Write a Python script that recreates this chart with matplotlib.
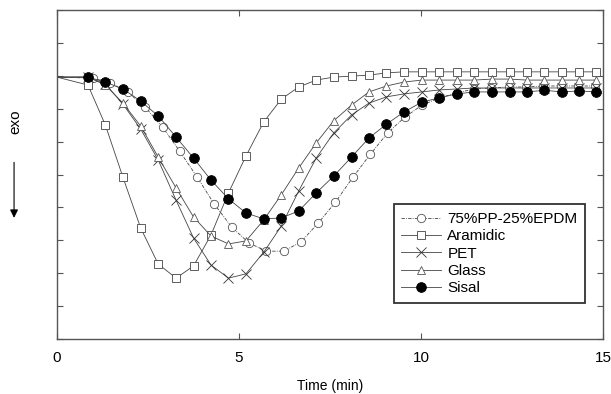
import matplotlib.pyplot as plt

plt.rcParams['font.family'] = ['Liberation Sans', 'DejaVu Sans']

# sampling times (min); first 0.0 entry is the flat lead-in without a marker
t_common = [0.0, 0.85, 1.33, 1.81, 2.30, 2.78, 3.27, 3.75, 4.23, 4.71, 5.19,
            5.68, 6.16, 6.64, 7.12, 7.60, 8.09, 8.57, 9.05, 9.53, 10.02,
            10.50, 10.98, 11.46, 11.94, 12.43, 12.91, 13.39, 13.87, 14.35, 14.80]
t_epdm = [0.0, 0.99, 1.46, 1.94, 2.42, 2.90, 3.37, 3.85, 4.32, 4.80, 5.27,
          5.75, 6.23, 6.70, 7.18, 7.65, 8.13, 8.61, 9.08, 9.56, 10.03,
          10.51, 10.98, 11.46, 11.93, 12.41, 12.89, 13.36, 13.84, 14.31, 14.79]

y_epdm = [7.96, 7.93, 7.78, 7.51, 7.05, 6.44, 5.71, 4.92, 4.10, 3.40, 2.92,
          2.67, 2.67, 2.95, 3.53, 4.16, 4.92, 5.62, 6.26, 6.75, 7.11,
          7.33, 7.48, 7.60, 7.63, 7.66, 7.66, 7.69, 7.69, 7.69, 7.69]
y_aramidic = [7.96, 7.72, 6.50, 4.92, 3.37, 2.28, 1.85, 2.22, 3.16, 4.44, 5.56,
              6.60, 7.29, 7.66, 7.87, 7.96, 7.99, 8.02, 8.09, 8.12, 8.12,
              8.12, 8.12, 8.12, 8.12, 8.12, 8.12, 8.12, 8.12, 8.12, 8.12]
y_pet = [7.96, 7.96, 7.75, 7.14, 6.38, 5.44, 4.22, 3.07, 2.25, 1.85, 1.98,
         2.64, 3.43, 4.50, 5.50, 6.26, 6.81, 7.17, 7.36, 7.45, 7.51,
         7.57, 7.60, 7.63, 7.63, 7.63, 7.63, 7.63, 7.63, 7.63, 7.63]
y_glass = [7.96, 7.96, 7.72, 7.17, 6.47, 5.53, 4.59, 3.71, 3.13, 2.89, 2.98,
           3.62, 4.38, 5.20, 5.96, 6.63, 7.11, 7.51, 7.69, 7.81, 7.87,
           7.87, 7.87, 7.87, 7.90, 7.90, 7.87, 7.87, 7.87, 7.87, 7.87]
y_sisal = [7.96, 7.96, 7.81, 7.60, 7.23, 6.78, 6.14, 5.50, 4.83, 4.26, 3.83,
           3.65, 3.68, 3.89, 4.44, 4.95, 5.53, 6.11, 6.53, 6.90, 7.20,
           7.33, 7.45, 7.51, 7.51, 7.51, 7.51, 7.56, 7.51, 7.54, 7.51]

labels = ['75%PP-25%EPDM', 'Aramidic', 'PET', 'Glass', 'Sisal']

fig = plt.figure(figsize=(6.11, 3.94), dpi=100)
ax = fig.add_axes([0.0933, 0.1396, 0.8937, 0.835])

lc = '#444444'
common = dict(color=lc, lw=0.6, markevery=slice(1, None), markeredgewidth=0.6)
ax.plot(t_epdm, y_epdm, ls=(0, (4, 1.5, 1, 1.5)), marker='o', ms=6,
        mfc='white', mec='#555555', label=labels[0], **common)
ax.plot(t_common, y_aramidic, ls='-', marker='s', ms=6.3, mfc='white',
        mec='#444444', label=labels[1], **common)
ax.plot(t_common, y_pet, ls='-', marker='x', ms=6.5, mec='#333333',
        label=labels[2], **common)
ax.plot(t_common, y_glass, ls='-', marker='^', ms=6, mfc='white',
        mec='#555555', label=labels[3], **common)
ax.plot(t_common, y_sisal, ls='-', marker='o', ms=7, mfc='black',
        mec='black', label=labels[4], **common)

ax.set_xlim(0, 15)
ax.set_ylim(0, 10)
ax.set_xticks([0, 5, 10, 15])
ax.set_xticklabels(['0', '5', '10', '15'], fontsize=11)
ax.set_yticks(range(0, 11))
ax.set_yticklabels([])
ax.tick_params(axis='x', direction='in', length=4, pad=9, top=True, color='#555555')
ax.tick_params(axis='y', direction='in', length=4, right=True, color='#555555')
for s in ax.spines.values():
    s.set_color('#555555')
    s.set_linewidth(1.0)

ax.set_xlabel('Time (min)', fontsize=10, labelpad=10)

fig.text(0.025, 0.69, 'exo', rotation=90, fontsize=11, ha='center', va='center')
ax.annotate('', xy=(0.023, 0.44), xytext=(0.023, 0.595), xycoords='figure fraction',
            arrowprops=dict(arrowstyle='-|>', color='black', lw=0.8,
                            mutation_scale=12))

leg = ax.legend(loc='lower right', bbox_to_anchor=(0.967, 0.109), fontsize=11,
                frameon=True, fancybox=False, shadow=False, labelspacing=0.22,
                handlelength=2.6, handletextpad=0.4, borderpad=0.5,
                borderaxespad=0.0)
leg.get_frame().set_edgecolor('black')
leg.get_frame().set_linewidth(1.3)

fig.savefig('out.png', dpi=100)
